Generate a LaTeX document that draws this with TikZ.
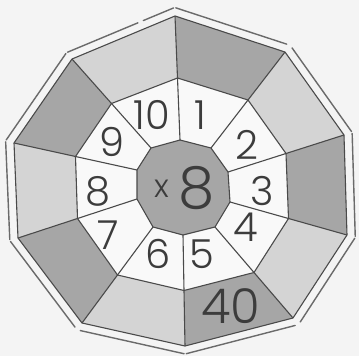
\documentclass[tikz,border=0pt]{standalone}
\usepackage{fontspec}
\newfontfamily\digitfont{Poppins}[UprightFont=* Light]
\usetikzlibrary{calc}
\definecolor{bgcol}{HTML}{F4F4F4}
\definecolor{darkfill}{HTML}{A6A6A6}
\definecolor{lightfill}{HTML}{D4D4D4}
\definecolor{ringfill}{HTML}{F9F9F9}
\definecolor{linecol}{HTML}{4A4A4A}
\definecolor{bordercol}{HTML}{6A6A6A}
\definecolor{textcol}{HTML}{3C3C3C}
\tikzset{
  edgeline/.style={draw=linecol, line width=1.1pt, line join=round},
  borderline/.style={draw=bordercol, line width=1.4pt, line cap=round},
  num/.style={inner sep=0pt, text=textcol, font=\digitfont\fontsize{40}{40}\selectfont},
  bignum/.style={inner sep=0pt, text=textcol, font=\digitfont\fontsize{58}{58}\selectfont},
  timesmark/.style={inner sep=0pt, text=textcol, font=\digitfont\fontsize{32}{32}\selectfont},
  answer/.style={inner sep=0pt, text=textcol, font=\digitfont\fontsize{48}{48}\selectfont}
}
\begin{document}
\begin{tikzpicture}[x=1pt,y=-1pt]
\fill[bgcol] (0,0) rectangle (359,356);
\useasboundingbox (0,0) rectangle (359,356);
% centre
\coordinate (Z) at (181.5,186.5);
% outer vertices
\coordinate (O1) at (175,16);
\coordinate (O2) at (285,52);
\coordinate (O3) at (344,135);
\coordinate (O4) at (347,235);
\coordinate (O5) at (293,318);
\coordinate (O6) at (185,346);
\coordinate (O7) at (82,323);
\coordinate (O8) at (18,238);
\coordinate (O9) at (14,143);
\coordinate (O10) at (72,59);
% centre decagon vertices
\coordinate (C1) at (180,140);
\coordinate (C2) at (211,148);
\coordinate (C3) at (228,172);
\coordinate (C4) at (230,202);
\coordinate (C5) at (215,227);
\coordinate (C6) at (183,235);
\coordinate (C7) at (153,227);
\coordinate (C8) at (137,199);
\coordinate (C9) at (137,170);
\coordinate (C10) at (151,148);
\foreach \i in {1,...,10}{
  \coordinate (M\i) at ($(C\i)!0.5!(O\i)$);
  \coordinate (P\i) at ($(Z)!1.05!(O\i)$);
}
% coloured ring
\foreach \i/\j/\c in {1/2/darkfill,2/3/lightfill,3/4/darkfill,4/5/lightfill,5/6/darkfill,
                      6/7/lightfill,7/8/darkfill,8/9/lightfill,9/10/darkfill,10/1/lightfill}{
  \fill[\c] (M\i) -- (O\i) -- (O\j) -- (M\j) -- cycle;
}
% number ring
\fill[ringfill] (M1) -- (M2) -- (M3) -- (M4) -- (M5) -- (M6) -- (M7) -- (M8) -- (M9) -- (M10) -- cycle;
% centre
\fill[darkfill] (C1) -- (C2) -- (C3) -- (C4) -- (C5) -- (C6) -- (C7) -- (C8) -- (C9) -- (C10) -- cycle;
% outlines
\draw[edgeline] (O1) -- (O2) -- (O3) -- (O4) -- (O5) -- (O6) -- (O7) -- (O8) -- (O9) -- (O10) -- cycle;
\draw[edgeline] (M1) -- (M2) -- (M3) -- (M4) -- (M5) -- (M6) -- (M7) -- (M8) -- (M9) -- (M10) -- cycle;
\draw[edgeline] (C1) -- (C2) -- (C3) -- (C4) -- (C5) -- (C6) -- (C7) -- (C8) -- (C9) -- (C10) -- cycle;
\foreach \i in {1,...,10}{
  \draw[edgeline] (C\i) -- (O\i);
}
% outer border strips
\draw[borderline] ($(P1)!0.01!(P2)$) -- ($(P2)!0.03!(P1)$);
\draw[borderline] ($(P2)!0.03!(P3)$) -- ($(P3)!0.01!(P2)$);
\draw[borderline] ($(P3)!0.01!(P4)$) -- ($(P4)!0.01!(P3)$);
\draw[borderline] ($(P4)!0.01!(P5)$) -- ($(P5)!0.03!(P4)$);
\draw[borderline] ($(P5)!0.03!(P6)$) -- ($(P6)!0.01!(P5)$);
\draw[borderline] ($(P6)!0.01!(P7)$) -- ($(P7)!0.03!(P6)$);
\draw[borderline] ($(P7)!0.03!(P8)$) -- ($(P8)!0.01!(P7)$);
\draw[borderline] ($(P8)!0.01!(P9)$) -- ($(P9)!0.01!(P8)$);
\draw[borderline] ($(P9)!0.01!(P10)$) -- ($(P10)!0.01!(P9)$);
\draw[borderline] ($(P10)!0.01!(P1)$) -- ($(P10)!0.66!(P1)$);
\draw[borderline] ($(P10)!0.71!(P1)$) -- ($(P1)!0.01!(P10)$);
% numbers
\node[num] (n1) at (200,115) {1};
\node[num] (n2) at (247,145) {2};
\node[num] (n3) at (262,191) {3};
\node[num] (n4) at (246,227) {4};
\node[num] (n5) at (202,254) {5};
\node[num] (n6) at (158,254) {6};
\node[num] (n7) at (108,235) {7};
\node[num] (n8) at (98,191) {8};
\node[num] (n9) at (112,142) {9};
\node[num] (n10) at (152,115) {10};
\node[timesmark] (times) at (162,189) {x};
\node[bignum] (factor) at (197,188) {8};
\node[answer] (result) at (231,306) {40};
\end{tikzpicture}
\end{document}
